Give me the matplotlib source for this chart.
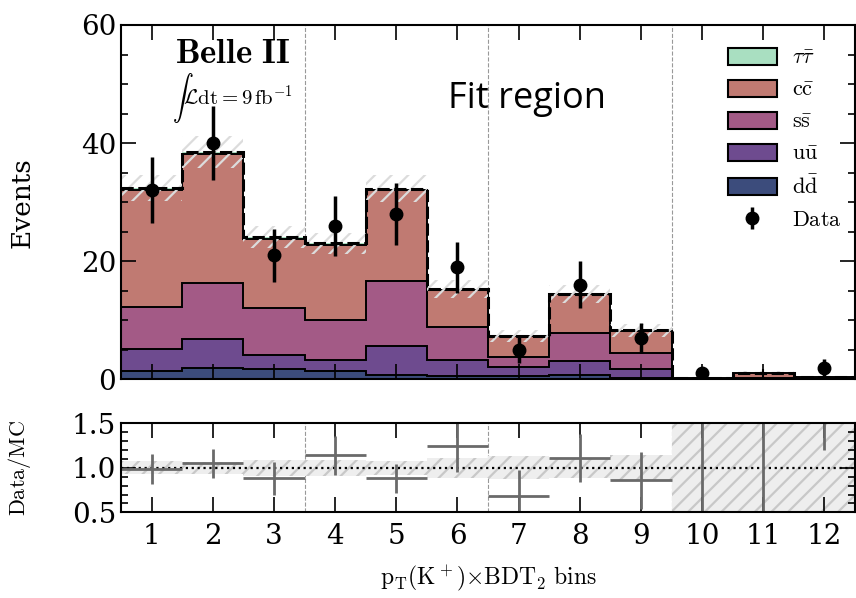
import numpy as np
import matplotlib
matplotlib.use("Agg")
import matplotlib.pyplot as plt
from matplotlib.patches import Patch

# ---- data -----------------------------------------------------------------
bins = np.arange(1, 13)
edges = np.arange(0.5, 13.0, 1.0)

dd = [1.4, 1.9, 1.7, 1.4, 0.8, 0.5, 0.6, 0.7, 0.3, 0.0, 0.0, 0.0]
uu = [3.8, 4.9, 2.5, 1.9, 4.8, 2.7, 1.5, 2.4, 1.4, 0.02, 0.05, 0.02]
ss = [7.1, 9.5, 7.9, 6.8, 11.0, 5.6, 1.7, 4.7, 2.7, 0.03, 0.1, 0.06]
cc = [19.7, 21.9, 11.7, 12.7, 15.4, 6.3, 3.5, 6.6, 3.8, 0.1, 0.95, 0.27]
tautau = [0.4, 0.3, 0.3, 0.2, 0.3, 0.2, 0.1, 0.1, 0.1, 0.0, 0.05, 0.05]
mc_err = [2.2, 2.7, 1.8, 1.7, 2.3, 1.5, 1.0, 1.5, 1.1, 0.1, 0.3, 0.1]

data = [32, 40, 21, 26, 28, 19, 5, 16, 7, 1, 0, 2]
data_lo = [5.6, 6.3, 4.5, 5.1, 5.3, 4.3, 2.2, 4.0, 2.6, 1.0, 0.0, 1.4]
data_hi = [5.6, 6.3, 4.5, 5.1, 5.3, 4.3, 2.2, 4.0, 2.6, 1.0, 1.8, 1.4]

ratio = [0.99, 1.05, 0.88, 1.14, 0.88, 1.24, 0.68, 1.11, 0.86, 10.0, 0.0, 5.0]
ratio_err = [0.17, 0.16, 0.19, 0.22, 0.16, 0.29, 0.30, 0.27, 0.32, 10.0, 5.0, 3.8]
ratio_band = [0.075, 0.07, 0.09, 0.09, 0.08, 0.11, 0.13, 0.11, 0.14, 1.0, 1.0, 1.0]

labels = [r"$\tau\bar{\tau}$", r"$\mathrm{c\bar{c}}$", r"$\mathrm{s\bar{s}}$",
          r"$\mathrm{u\bar{u}}$", r"$\mathrm{d\bar{d}}$"]
colors = ["#a9dfc1", "#c07a72", "#a35a86", "#6e4b8f", "#3c4c7c"]

plt.rcParams["font.family"] = "DejaVu Serif"
plt.rcParams["mathtext.fontset"] = "cm"
plt.rcParams["hatch.linewidth"] = 1.6

fig = plt.figure(figsize=(8.56, 5.98), dpi=100)
ax = fig.add_axes([0.1414, 0.3657, 0.8575, 0.5925])
ax2 = fig.add_axes([0.1414, 0.1433, 0.8575, 0.1488])

# ---- stacked MC ------------------------------------------------------------
stack = [dd, uu, ss, cc, tautau]
stack_cols = colors[::-1]
base = np.zeros(len(bins))
for vals, col in zip(stack, stack_cols):
    top = base + np.array(vals)
    ax.stairs(top, edges, baseline=base, fill=True, color=col, lw=0)
    base = top
base = np.zeros(len(bins))
for vals in stack[:4]:
    base = base + np.array(vals)
    ax.stairs(base, edges, baseline=None, color="k", lw=1.4)
total = base + np.array(tautau)
mc_err = np.array(mc_err)
ax.bar(bins, 2 * mc_err, bottom=total - mc_err, width=1.0, fill=False,
       hatch="//", edgecolor="#dcdcdc", lw=0)
ax.stairs(total, edges, baseline=None, color="k", lw=2.2, ls=(0, (4, 1.5)))

# ---- data ------------------------------------------------------------------
data = np.array(data)
yerr = np.array([data_lo, data_hi])
has = data > 0
eb = ax.errorbar(bins[has], data[has], yerr=yerr[:, has], fmt="o", color="k",
                 ms=9, elinewidth=2.5, capsize=0, zorder=5)
ax.errorbar(bins[~has], data[~has], yerr=yerr[:, ~has], fmt="none",
            ecolor="k", elinewidth=1.5, capsize=0, zorder=5)

for xv in (3.5, 6.5, 9.5):
    ax.axvline(xv, color="#999999", ls="--", lw=0.8, zorder=0.5)
    ax2.axvline(xv, color="#999999", ls="--", lw=0.8, zorder=0.5)

ax.set_xlim(0.5, 12.5)
ax.set_ylim(0, 60)
ax.set_yticks([0, 20, 40, 60])
ax.set_yticks(np.arange(0, 61, 5), minor=True)
ax.set_xticks(bins)
ax.set_xticklabels([])
ax.set_ylabel("Events", fontsize=19)
ax.yaxis.set_label_coords(-0.118, 0.5)

ax.text(0.073, 0.892, r"$\mathbf{Belle\ II}$", transform=ax.transAxes,
        fontsize=25)
ax.text(0.07, 0.775, r"$\int\mathcal{L}\mathrm{dt} = 9\,\mathrm{fb}^{-1}$",
        transform=ax.transAxes, fontsize=15)
ax.text(5.85, 47.5, "Fit region", fontsize=26, family="Open Sans",
        va="center")

handles = [Patch(facecolor=c, edgecolor="k", lw=1.5) for c in colors]
handles.append(eb)
ax.legend(handles, labels + [r"$\mathrm{Data}$"], loc="upper right",
          bbox_to_anchor=(1.0, 0.975), frameon=False, fontsize=16,
          handlelength=2.2, handleheight=0.8, labelspacing=0.45,
          handletextpad=0.7, borderaxespad=0.2)

# ---- ratio -----------------------------------------------------------------
ratio_band = np.array(ratio_band)
ax2.bar(bins, 2 * ratio_band, bottom=1 - ratio_band, width=1.0,
        color="#eeeeee", hatch="//", edgecolor="#c8c8c8", lw=0)
ax2.axhline(1.0, color="k", ls=":", lw=1.6)
ax2.errorbar(bins, ratio, xerr=0.5, yerr=ratio_err, fmt="none",
             ecolor="#6a6a6a", elinewidth=2)
ax2.set_xlim(0.5, 12.5)
ax2.set_ylim(0.5, 1.5)
ax2.set_yticks([0.5, 1.0, 1.5])
ax2.set_yticks(np.arange(0.5, 1.51, 0.1), minor=True)
ax2.set_xticks(bins)
ax2.set_ylabel(r"$\mathrm{Data/MC}$", fontsize=16)
ax2.yaxis.set_label_coords(-0.12, 0.5)
ax2.set_xlabel(r"$\mathrm{p_T(K^+){\times}BDT_2\ bins}$", fontsize=17,
               labelpad=10)

for a in (ax, ax2):
    a.tick_params(which="both", direction="in", top=True, right=True,
                  labelsize=20, width=1.2)
    a.tick_params(which="major", length=11)
    a.tick_params(which="minor", length=5)
    for s in a.spines.values():
        s.set_linewidth(1.5)
ax2.tick_params(axis="x", pad=8)

fig.savefig("out.png", dpi=100)
